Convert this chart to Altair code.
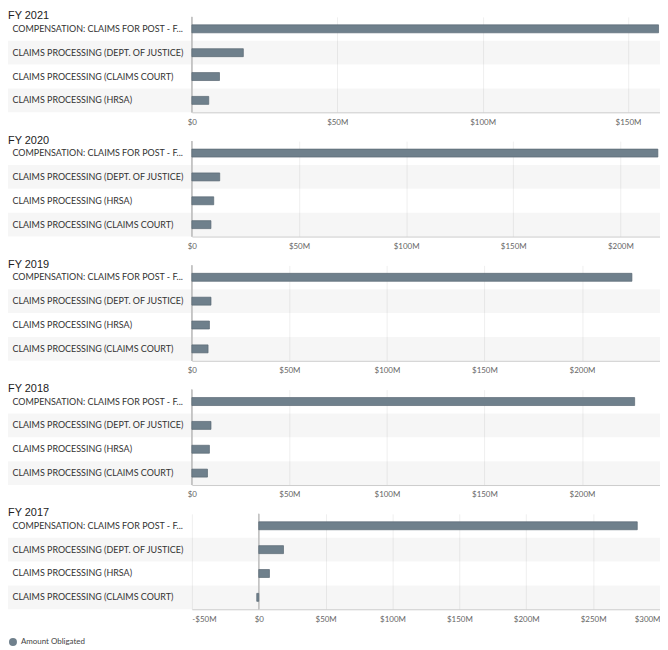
import altair as alt
import pandas as pd

COMP = "COMPENSATION: CLAIMS FOR POST - F..."
DOJ = "CLAIMS PROCESSING (DEPT. OF JUSTICE)"
CC = "CLAIMS PROCESSING (CLAIMS COURT)"
HRSA = "CLAIMS PROCESSING (HRSA)"

years = ["FY 2021", "FY 2020", "FY 2019", "FY 2018", "FY 2017"]

cats_2021 = [COMP, DOJ, CC, HRSA]
vals_2021 = [160.5, 17.7, 9.5, 5.8]
cats_2020 = [COMP, DOJ, HRSA, CC]
vals_2020 = [217.5, 13.0, 10.2, 8.9]
cats_2019 = [COMP, DOJ, HRSA, CC]
vals_2019 = [225.6, 9.8, 9.0, 8.3]
cats_2018 = [COMP, DOJ, HRSA, CC]
vals_2018 = [227.0, 9.8, 9.0, 8.0]
cats_2017 = [COMP, DOJ, HRSA, CC]
vals_2017 = [283.0, 18.5, 8.0, -1.5]

domains = [[0, 161], [0, 218.5], [0, 240], [0, 240], [-50, 300]]
all_cats = [cats_2021, cats_2020, cats_2019, cats_2018, cats_2017]
all_vals = [vals_2021, vals_2020, vals_2019, vals_2018, vals_2017]

SERIES = "Amount Obligated"
BAR = "#6f808c"
W = 471
ROW = 24

label_expr = ("datum.value == 0 ? '$0' : (datum.value < 0 ? '-$' : '$') + "
              "format(abs(datum.value), 'd') + 'M'")


def panel(title, cats, vals, dom, flush):
    df = pd.DataFrame({"cat": cats, "amount": vals,
                       "series": [SERIES] * len(cats),
                       "row": list(range(len(cats)))})
    base = alt.Chart(df)
    start = int(-(-dom[0] // 50) * 50)
    ticks = list(range(start, int(dom[1]) + 1, 50))
    yaxis = alt.Axis(title=None, ticks=False, domain=False, labelAlign="left",
                     labelPadding=181, labelFont="Lato", labelFontSize=9,
                     labelColor="#333", labelLimit=200, zindex=1, grid=False)
    y = alt.Y("cat:N", sort=cats,
              scale=alt.Scale(paddingInner=0, paddingOuter=0), axis=yaxis)
    xscale = alt.Scale(domain=dom, nice=False, zero=False)
    xaxis = alt.Axis(title=None, values=ticks, labelExpr=label_expr, grid=True,
                     gridColor="#efefef", domainColor="#cccccc", ticks=False,
                     labelFont="Lato", labelFontSize=8, labelColor="#666",
                     labelPadding=6, labelFlush=flush)
    band = base.transform_filter("datum.row % 2 == 1").mark_rect(
        fill="#000000", opacity=0.035).encode(
        y=y, x=alt.value(-185), x2=alt.value(W))
    rule = base.transform_calculate(zero="0").mark_rule(
        color="#c4c4c4", strokeWidth=1).encode(
        x=alt.X("zero:Q", scale=xscale, axis=xaxis))
    bars = base.mark_bar(size=8, stroke="#5a6873", strokeWidth=0.7).encode(
        y=y,
        x=alt.X("amount:Q", scale=xscale, axis=xaxis),
        color=alt.Color("series:N", title=None,
                        scale=alt.Scale(domain=[SERIES], range=[BAR]),
                        legend=alt.Legend(symbolType="circle", orient="none",
                                          legendX=-184, legendY=625)),
    )
    return alt.layer(band, rule, bars).properties(
        width=W, height=ROW * len(cats), title=title)


flushes = [False, False, False, False, True]
panels = [panel(t, c, v, d, f)
          for t, c, v, d, f in zip(years, all_cats, all_vals, domains, flushes)]

chart = alt.vconcat(*panels, spacing=8).properties(
    padding={"left": 0, "top": 0, "right": 0, "bottom": 0}
).configure_view(stroke=None).configure_title(
    font="Liberation Sans", fontSize=11, fontWeight="normal", anchor="start",
    color="#222", offset=-5
).configure_legend(
    labelFont="Lato", labelFontSize=8, labelColor="#444", symbolSize=64,
    symbolStrokeWidth=0, padding=0
)

chart.save("out.html", embed_options={"renderer": "svg", "actions": False})
